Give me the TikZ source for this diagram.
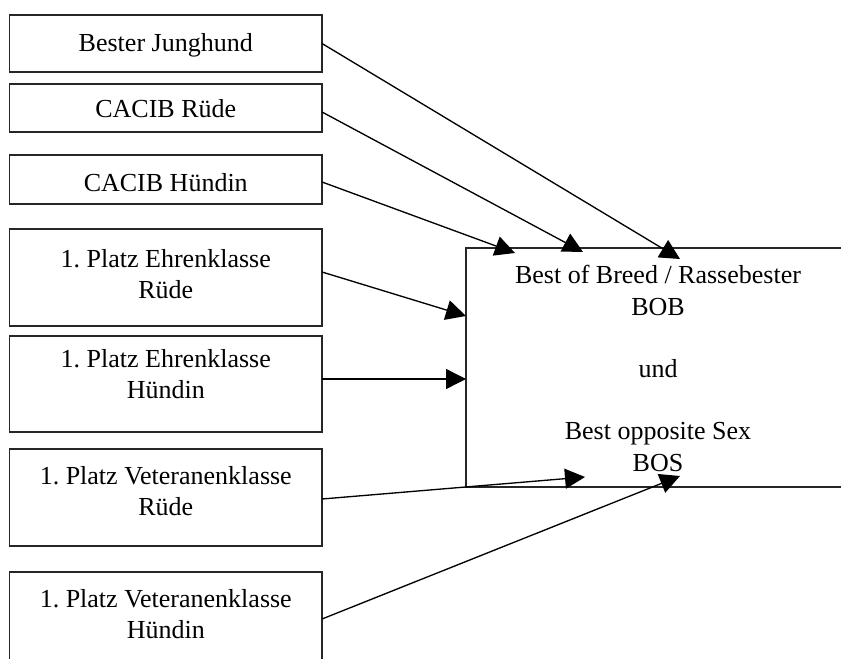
\documentclass[tikz,border=0pt]{standalone}
\usepackage{fontspec}
\setmainfont{Liberation Serif}
\usetikzlibrary{arrows.meta,calc}
\frenchspacing
\begin{document}
\begin{tikzpicture}[x=0.75pt,y=-0.75pt,
  box/.style={draw=black!85,line width=0.8pt,inner sep=0pt,outer sep=0pt,minimum width=234.4pt},
  lbl/.style={inner sep=0pt,outer sep=0pt,align=center,font=\frenchspacing\fontsize{19.5pt}{23.4pt}\selectfont},
  arr/.style={line width=1pt,-{Triangle[length=15pt,width=15pt]}}]
\useasboundingbox (0,0) rectangle (841,659);
\clip (0,0) rectangle (841,659);
% left boxes
\node[box,minimum height=42.75pt] (b1) at (165.75,43.5) {};
\node[box,minimum height=36pt]    (b2) at (165.75,108) {};
\node[box,minimum height=36.75pt] (b3) at (165.75,179.5) {};
\node[box,minimum height=72.75pt] (b4) at (165.75,277.5) {};
\node[box,minimum height=72pt]    (b5) at (165.75,384) {};
\node[box,minimum height=72.75pt] (b6) at (165.75,497.5) {};
\node[box,minimum height=72.75pt] (b7) at (165.75,620.5) {};
% big box
\node[box,minimum width=325.5pt,minimum height=179.25pt] (bob) at (683,367.5) {};
% texts
\node[lbl,anchor=base]  (t1) at (165.75,51.5) {Bester Junghund};
\node[lbl,anchor=base]  (t2) at (165.75,118) {CACIB Rüde};
\node[lbl,anchor=base]  (t3) at (165.75,192) {CACIB Hündin};
\node[lbl,anchor=north] (t4) at (165.75,249) {1. Platz Ehrenklasse\\Rüde};
\node[lbl,anchor=north] (t5) at (165.75,349) {1. Platz Ehrenklasse\\Hündin};
\node[lbl,anchor=north] (t6) at (165.75,466.6) {1. Platz Veteranenklasse\\Rüde};
\node[lbl,anchor=north] (t7) at (165.75,589) {1. Platz Veteranenklasse\\Hündin};
\node[lbl,anchor=north] (tb) at (658,265.5) {Best of Breed / Rassebester\\BOB\\[23.4pt]und\\[23.4pt]Best opposite Sex\\BOS};
% arrow targets
\coordinate (e1) at (680,259);
\coordinate (e2) at (583,252);
\coordinate (e3) at (515,253);
\coordinate (e4) at (bob.west |- 0,316);
\coordinate (e5) at (bob.west |- 0,379);
\coordinate (e6) at (585,477);
\coordinate (e7) at (680,476);
% connectors
\draw[arr] (b1.east) -- (e1);
\draw[arr] ($(b2.east)+(0,4)$) -- (e2);
\draw[arr] ($(b3.east)+(0,2.5)$) -- (e3);
\draw[arr] ($(b4.east)+(0,-5.5)$) -- (e4);
\draw[arr] ($(b5.east)+(0,-5)$) -- (e5);
\draw[arr] ($(b6.east)+(0,1.5)$) -- (e6);
\draw[arr] ($(b7.east)+(0,-1.5)$) -- (e7);
\end{tikzpicture}
\end{document}
